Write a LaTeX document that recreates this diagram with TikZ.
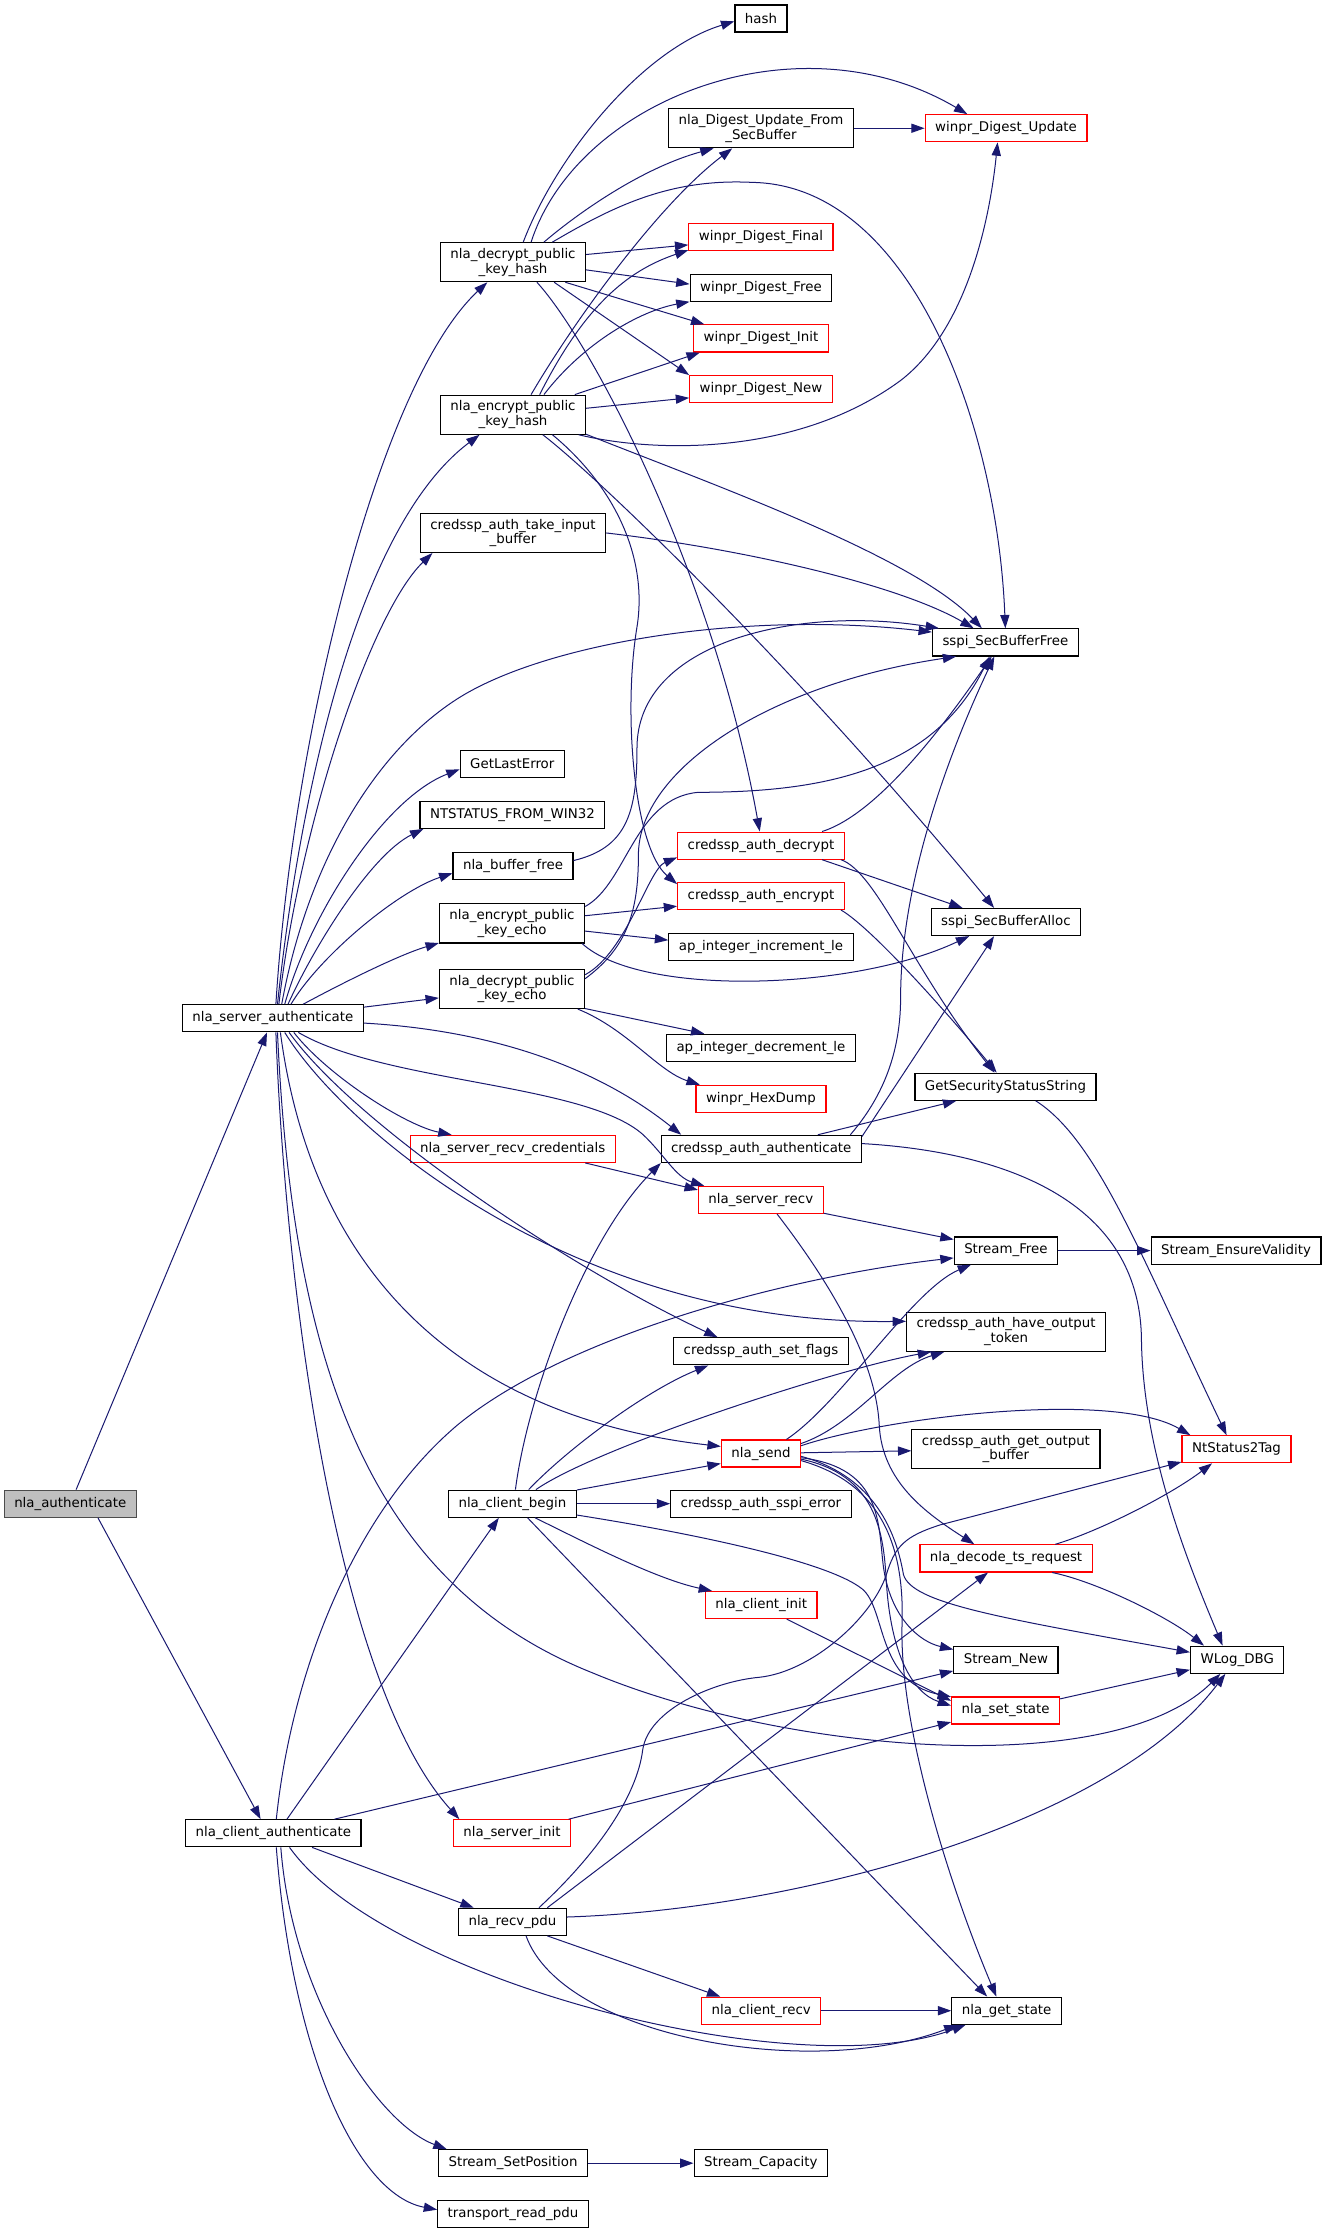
\documentclass[tikz,border=0pt]{standalone}
\usepackage{fontspec}
\setmainfont{DejaVu Sans}
\usetikzlibrary{arrows.meta}
\definecolor{edgeblue}{RGB}{25,25,112}
\definecolor{linkred}{RGB}{255,0,0}
\begin{document}
\begin{tikzpicture}[x=0.03cm,y=-0.03cm,
  fn/.style={draw=black,line width=0.7pt,fill=white,inner xsep=6pt,inner ysep=3.3pt,minimum height=16.2pt,align=center,font=\fontsize{8}{8.8}\selectfont},
  fnred/.style={fn,draw=linkred},
  fncur/.style={fn,fill=black!25,draw=black!70},
  call/.style={draw=edgeblue,line width=0.6pt,-{Triangle[length=8pt,width=5.5pt]}}]
\useasboundingbox (0,0) rectangle (931.2,1566.3);

\node[fncur] (auth) at (49.3,1055.2) {nla\_authenticate};
\node[fn] (sauth) at (191.5,714.6) {nla\_server\_authenticate};
\node[fn] (cauth) at (191.8,1286.5) {nla\_client\_authenticate};

\node[fn] (dkh) at (360,184) {nla\_decrypt\_public\\\_key\_hash};
\node[fn] (ekh) at (360,291) {nla\_encrypt\_public\\\_key\_hash};
\node[fn] (tib) at (360,374) {credssp\_auth\_take\_input\\\_buffer};
\node[fn] (gle) at (359.5,536) {GetLastError};
\node[fn] (ntfw) at (359.6,571.8) {NTSTATUS\_FROM\_WIN32};
\node[fn] (bfree) at (360,607.6) {nla\_buffer\_free};
\node[fn] (eke) at (359.3,648) {nla\_encrypt\_public\\\_key\_echo};
\node[fn] (dke) at (359.3,694) {nla\_decrypt\_public\\\_key\_echo};
\node[fnred] (srcred) at (359.8,806.2) {nla\_server\_recv\_credentials};
\node[fn] (cbegin) at (359.6,1055.2) {nla\_client\_begin};
\node[fnred] (sinit) at (359.3,1286.5) {nla\_server\_init};
\node[fn] (recvpdu) at (359.6,1348.6) {nla\_recv\_pdu};
\node[fn] (ssetpos) at (360,1518) {Stream\_SetPosition};
\node[fn] (trpdu) at (360,1553.4) {transport\_read\_pdu};

\node[fn] (hash) at (534,13) {hash};
\node[fn] (dupd) at (534,90) {nla\_Digest\_Update\_From\\\_SecBuffer};
\node[fnred] (wdfinal) at (534,166.5) {winpr\_Digest\_Final};
\node[fn] (wdfree) at (534,202) {winpr\_Digest\_Free};
\node[fnred] (wdinit) at (534,237.5) {winpr\_Digest\_Init};
\node[fnred] (wdnew) at (534,273) {winpr\_Digest\_New};
\node[fnred] (cadec) at (534,593.4) {credssp\_auth\_decrypt};
\node[fnred] (caenc) at (534,628.7) {credssp\_auth\_encrypt};
\node[fn] (incle) at (534,664.3) {ap\_integer\_increment\_le};
\node[fn] (decle) at (534,735.3) {ap\_integer\_decrement\_le};
\node[fnred] (hexdump) at (534,771.1) {winpr\_HexDump};
\node[fn] (caauth) at (534.2,806.2) {credssp\_auth\_authenticate};
\node[fnred] (srecv) at (533.9,842) {nla\_server\_recv};
\node[fn] (setflags) at (534,948.3) {credssp\_auth\_set\_flags};
\node[fnred] (send) at (534,1020) {nla\_send};
\node[fn] (sspierr) at (534,1055.2) {credssp\_auth\_sspi\_error};
\node[fnred] (cinit) at (534.2,1126.3) {nla\_client\_init};
\node[fnred] (crecv) at (534.2,1411) {nla\_client\_recv};
\node[fn] (scap) at (533.9,1518) {Stream\_Capacity};

\node[fnred] (wdu) at (706,90) {winpr\_Digest\_Update};
\node[fn] (sbfree) at (705.5,450.8) {sspi\_SecBufferFree};
\node[fn] (sballoc) at (705.9,647) {sspi\_SecBufferAlloc};
\node[fn] (gsss) at (705.6,762.6) {GetSecurityStatusString};
\node[fn] (sfree) at (705.9,877.6) {Stream\_Free};
\node[fn] (haveout) at (706,934.6) {credssp\_auth\_have\_output\\\_token};
\node[fn] (getout) at (705.9,1016.9) {credssp\_auth\_get\_output\\\_buffer};
\node[fnred] (dtsr) at (706,1093.6) {nla\_decode\_ts\_request};
\node[fn] (snew) at (705.9,1164.7) {Stream\_New};
\node[fnred] (setstate) at (705.7,1200.3) {nla\_set\_state};
\node[fn] (getstate) at (706.4,1411) {nla\_get\_state};

\node[fn] (sev) at (867.4,877.6) {Stream\_EnsureValidity};
\node[fnred] (ns2t) at (867.7,1017) {NtStatus2Tag};
\node[fn] (wlog) at (868.2,1164.7) {WLog\_DBG};

\draw[call] (auth) -- (sauth);
\draw[call] (auth.-27) -- (cauth.132);

\draw[call] (sauth.78) .. controls (205,520) and (265,270) .. (dkh.218);
\draw[call] (sauth.72) .. controls (210,560) and (250,370) .. (ekh.211);
\draw[call] (sauth.67) .. controls (210,580) and (260,430) .. (tib.194);
\draw[call] (sauth.58) .. controls (215,610) and (260,530) .. (320,491) .. controls (380,452) and (520,428) .. (sbfree.172);
\draw[call] (sauth.50) .. controls (218,640) and (270,560) .. (gle.186);
\draw[call] (sauth.43) .. controls (220,665) and (260,600) .. (ntfw.189);
\draw[call] (sauth.38) .. controls (225,670) and (280,625) .. (bfree.187);
\draw[call] (sauth.25) .. controls (240,690) and (280,670) .. (eke.195);
\draw[call] (sauth.7) -- (dke.187);
\draw[call] (sauth.-3) .. controls (380,725) and (445,770) .. (caauth.170);
\draw[call] (sauth.-29) .. controls (270,760) and (410,760) .. (451,796) .. controls (466,810) and (474,826) .. (srecv.166);
\draw[call] (sauth.-34) .. controls (230,755) and (285,790) .. (srcred.167);
\draw[call] (sauth.-41) .. controls (250,790) and (400,890) .. (setflags.162);
\draw[call] (sauth.-50) .. controls (240,790) and (400,930) .. (haveout.174);
\draw[call] (sauth.-62) .. controls (220,900) and (330,995) .. (send.170);
\draw[call] (sauth.-72) .. controls (205,950) and (255,1110) .. (416,1174) .. controls (550,1230) and (780,1250) .. (wlog.220);
\draw[call] (sauth.-78) .. controls (200,900) and (235,1180) .. (sinit.165);

\draw[call] (cauth.78) .. controls (205,1170) and (250,1060) .. (321,1000) .. controls (400,935) and (560,895) .. (sfree.188);
\draw[call] (cauth.46) -- (cbegin.226);
\draw[call] (cauth.13) -- (snew.192);
\draw[call] (cauth.-20) -- (recvpdu.160);
\draw[call] (cauth.-41) .. controls (270,1390) and (560,1465) .. (getstate.199);
\draw[call] (cauth.-62) .. controls (205,1400) and (265,1490) .. (ssetpos.168);
\draw[call] (cauth.-78) .. controls (205,1440) and (250,1540) .. (trpdu.177);

\draw[call] (dkh.63) .. controls (390,110) and (450,35) .. (hash.186);
\draw[call] (dkh.48) .. controls (405,70) and (560,10) .. (wdu.160);
\draw[call] (dkh.33) .. controls (405,150) and (450,118) .. (dupd.203);
\draw[call] (dkh.27) .. controls (430,145) and (470,125) .. (528,128) .. controls (640,130) and (700,300) .. (sbfree.90);
\draw[call] (dkh.6) -- (wdfinal.186);
\draw[call] (dkh.-6) -- (wdfree.177);
\draw[call] (dkh.-21) -- (wdinit.166);
\draw[call] (dkh.-26) -- (wdnew.169);
\draw[call] (dkh.-40) .. controls (415,240) and (500,400) .. (cadec.95);

\draw[call] (ekh.48) .. controls (400,230) and (460,145) .. (dupd.215);
\draw[call] (ekh.37) .. controls (410,215) and (440,190) .. (wdfinal.190);
\draw[call] (ekh.33) .. controls (410,240) and (450,218) .. (wdfree.191);
\draw[call] (ekh.18) -- (wdinit.193);
\draw[call] (ekh.5) -- (wdnew.187);
\draw[call] (ekh.-17) .. controls (460,318) and (560,320) .. (632,267) .. controls (680,230) and (695,150) .. (wdu.239);
\draw[call] (ekh.-15) .. controls (500,340) and (640,390) .. (sbfree.149);
\draw[call] (ekh.-34) .. controls (420,335) and (560,470) .. (sballoc.130);
\draw[call] (ekh.-27) .. controls (430,340) and (455,390) .. (447,440) .. controls (437,500) and (445,595) .. (caenc.172);

\draw[call] (dupd) -- (wdu);
\draw[call] (tib.east) .. controls (520,385) and (630,410) .. (sbfree.156);
\draw[call] (bfree.5) .. controls (440,595) and (447,570) .. (447,525) .. controls (447,450) and (560,425) .. (sbfree.168);

\draw[call] (eke.13) .. controls (440,620) and (445,560) .. (490,556) .. controls (580,556) and (655,540) .. (sbfree.222);
\draw[call] (eke.6) -- (caenc.187);
\draw[call] (eke.-6) -- (incle.176);
\draw[call] (eke.-16) .. controls (450,700) and (600,695) .. (sballoc.201);

\draw[call] (dke.8) .. controls (440,665) and (448,640) .. (448,600) .. controls (448,540) and (540,480) .. (sbfree.196);
\draw[call] (dke.11) .. controls (440,668) and (455,610) .. (cadec.188);
\draw[call] (dke.-15) -- (decle.166);
\draw[call] (dke.-17) .. controls (440,722) and (462,752) .. (hexdump.167);

\draw[call] (cadec.13) .. controls (620,570) and (672,495) .. (sbfree.226);
\draw[call] (cadec.-13) -- (sballoc.162);
\draw[call] (cadec.-10) .. controls (615,612) and (640,680) .. (gsss.128);
\draw[call] (caenc.-10) .. controls (610,650) and (660,705) .. (gsss.122);

\draw[call] (caauth.9) .. controls (615,775) and (632,745) .. (632,700) .. controls (632,620) and (665,530) .. (sbfree.232);
\draw[call] (caauth.7) -- (sballoc.230);
\draw[call] (caauth.14) -- (gsss.196);
\draw[call] (caauth.3) .. controls (700,808) and (800,840) .. (801,940) .. controls (802,1020) and (835,1100) .. (wlog.136);

\draw[call] (srcred.-11) -- (srecv.171);
\draw[call] (srecv.-12) -- (sfree.168);
\draw[call] (srecv.-41) .. controls (590,910) and (615,960) .. (617,1000) .. controls (619,1040) and (650,1062) .. (dtsr.156);
\draw[call] (gsss.-25) .. controls (770,800) and (800,880) .. (ns2t.125);
\draw[call] (sfree) -- (sev);

\draw[call] (send.29) .. controls (590,985) and (640,905) .. (sfree.202);
\draw[call] (send.14) .. controls (600,1000) and (625,960) .. (haveout.198);
\draw[call] (send.11) .. controls (620,995) and (780,975) .. (ns2t.163);
\draw[call] (send) -- (getout);
\draw[call] (send.-4) .. controls (610,1035) and (628,1070) .. (634,1105) .. controls (640,1125) and (700,1135) .. (wlog.171);
\draw[call] (send.-6) .. controls (620,1030) and (616,1070) .. (620,1100) .. controls (625,1135) and (645,1152) .. (snew.169);
\draw[call] (send.-8) .. controls (615,1035) and (620,1075) .. (622,1110) .. controls (625,1160) and (640,1188) .. (setstate.175);
\draw[call] (send.-10) .. controls (615,1040) and (635,1080) .. (633,1140) .. controls (631,1210) and (665,1320) .. (getstate.126);

\draw[call] (cbegin.78) .. controls (370,980) and (410,870) .. (caauth.188);
\draw[call] (cbegin.41) .. controls (400,1015) and (455,975) .. (setflags.195);
\draw[call] (cbegin.31) .. controls (420,1015) and (590,960) .. (haveout.195);
\draw[call] (cbegin.12) -- (send.194);
\draw[call] (cbegin) -- (sspierr);
\draw[call] (cbegin.-10) .. controls (480,1075) and (580,1095) .. (605,1115) .. controls (622,1129) and (615,1180) .. (setstate.166);
\draw[call] (cbegin.-32) .. controls (410,1082) and (460,1108) .. (cinit.164);
\draw[call] (cbegin.-43) -- (getstate.144);

\draw[call] (dtsr.16) .. controls (770,1075) and (820,1050) .. (ns2t.210);
\draw[call] (dtsr.-17) .. controls (770,1110) and (820,1135) .. (wlog.157);
\draw[call] (cinit.-29) -- (setstate.170);
\draw[call] (sinit.14) -- (setstate.192);
\draw[call] (setstate.12) -- (wlog.192);

\draw[call] (recvpdu.28) .. controls (420,1300) and (447,1260) .. (451,1228) .. controls (455,1200) and (500,1180) .. (533,1177) .. controls (570,1173) and (612,1135) .. (622,1105) .. controls (628,1085) and (635,1078) .. (660,1070) -- (ns2t.193);
\draw[call] (recvpdu.22) -- (dtsr.218);
\draw[call] (recvpdu.5) .. controls (560,1340) and (780,1280) .. (wlog.230);
\draw[call] (recvpdu.-22) -- (crecv.161);
\draw[call] (recvpdu.-46) .. controls (395,1430) and (570,1460) .. (getstate.196);
\draw[call] (crecv) -- (getstate);
\draw[call] (ssetpos) -- (scap);
\end{tikzpicture}
\end{document}
